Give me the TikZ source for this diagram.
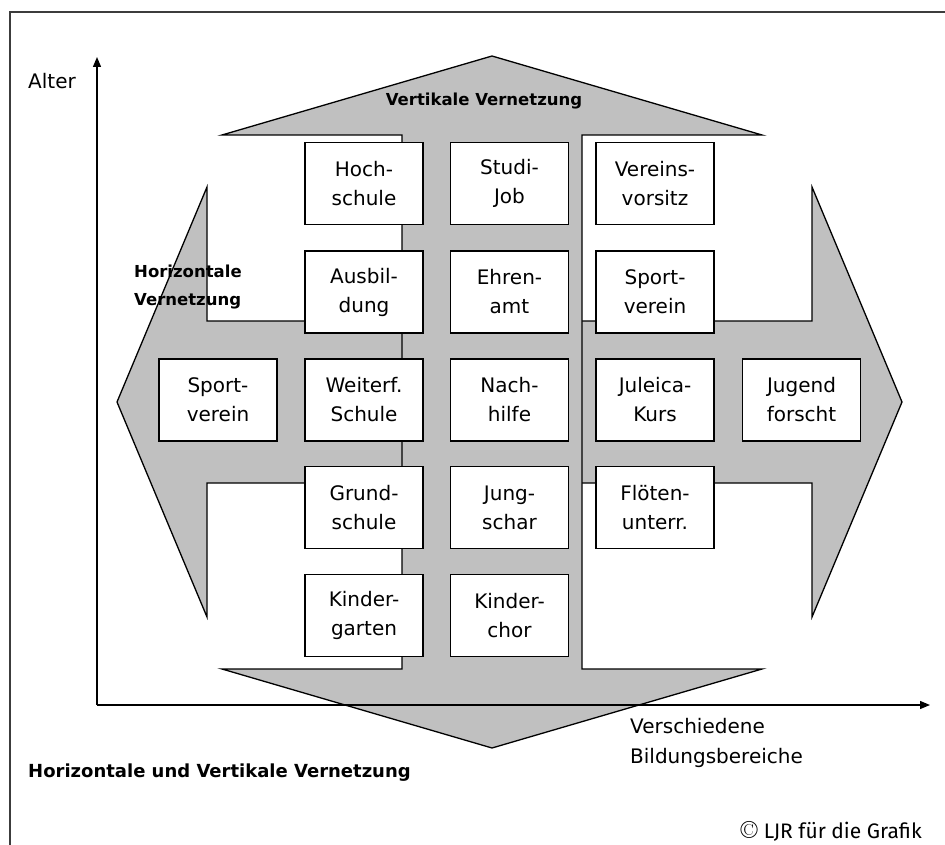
\documentclass[tikz,border=0pt]{standalone}
\usepackage{fontspec}
\usetikzlibrary{arrows.meta}
\newfontfamily\boxfont{DejaVu Sans}
\newfontfamily\copyfont{Fira Sans}
\definecolor{arrowgray}{RGB}{192,192,192}
\definecolor{framegray}{RGB}{60,60,60}
\tikzset{
  netbox/.style={draw=black, line width=1.4pt, fill=white, minimum width=118pt, minimum height=82pt,
    inner sep=0pt, align=center, font=\boxfont\fontsize{20}{29}\selectfont},
  bigarrow/.style={draw=black, line width=1.3pt, fill=arrowgray, line join=miter},
  axis/.style={draw=black, line width=1.3pt, -{Triangle[length=10pt,width=8pt]}},
  plain/.style={font=\boxfont\fontsize{20}{30}\selectfont, inner sep=0pt},
  boldlabel/.style={font=\boxfont\bfseries\fontsize{16.5}{28}\selectfont, inner sep=0pt},
}
\begin{document}
\begin{tikzpicture}[x=1pt,y=-1pt]
\useasboundingbox (0,0) rectangle (945,845);
% frame
\draw[framegray, line width=2pt] (10,845) -- (10,12) -- (945,12);
% horizontal double arrow
\path[bigarrow] (207,321) -- (207,187) -- (117,402) -- (207,617) -- (207,483) -- (812,483)
  -- (812,617) -- (902,402) -- (812,187) -- (812,321) -- cycle;
% vertical double arrow
\path[bigarrow] (402,669) -- (222,669) -- (492,748) -- (762,669) -- (582,669) -- (582,135)
  -- (762,135) -- (492,56) -- (222,135) -- (402,135) -- cycle;
% axes
\coordinate (O) at (97,705);
\coordinate (ytip) at (97,57);
\coordinate (xtip) at (930,705);
\draw[axis] (O) -- (ytip);
\draw[axis] (O) -- (xtip);
% labels
\node[plain] (alter) at (52,81) {Alter};
\node[boldlabel] (vv) at (484,101) {Vertikale Vernetzung};
\node[boldlabel, anchor=west, align=left] (hv) at (134,287) {Horizontale\\Vernetzung};
\node[plain, anchor=west, align=left] (vb) at (630,743) {Verschiedene\\Bildungsbereiche};
\node[font=\boxfont\bfseries\fontsize{18}{20}\selectfont, inner sep=0pt, anchor=west] (title) at (28,773) {Horizontale und Vertikale Vernetzung};
\node[inner sep=0pt, anchor=east] (copy) at (922,831) {{\fontsize{25}{25}\selectfont\textcopyright}\hspace{6pt}{\copyfont\fontsize{21}{24}\selectfont LJR für die Grafik}};
% boxes
\node[netbox] (b11) at (218,400) {Sport-\\verein};
\node[netbox] (b21) at (364,183.5) {Hoch-\\schule};
\node[netbox] (b22) at (364,292) {Ausbil-\\dung};
\node[netbox] (b23) at (364,400) {Weiterf.\\Schule};
\node[netbox] (b24) at (364,507.5) {Grund-\\schule};
\node[netbox] (b25) at (364,615.5) {Kinder-\\garten};
\node[netbox] (b31) at (509.5,183.5) {Studi-\\Job};
\node[netbox] (b32) at (509.5,292) {Ehren-\\amt};
\node[netbox] (b33) at (509.5,400) {Nach-\\hilfe};
\node[netbox] (b34) at (509.5,507.5) {Jung-\\schar};
\node[netbox] (b35) at (509.5,615.5) {Kinder-\\chor};
\node[netbox] (b41) at (655,183.5) {Vereins-\\vorsitz};
\node[netbox] (b42) at (655,292) {Sport-\\verein};
\node[netbox] (b43) at (655,400) {Juleica-\\Kurs};
\node[netbox] (b44) at (655,507.5) {Flöten-\\unterr.};
\node[netbox] (b51) at (801.5,400) {Jugend\\forscht};
\end{tikzpicture}
\end{document}
